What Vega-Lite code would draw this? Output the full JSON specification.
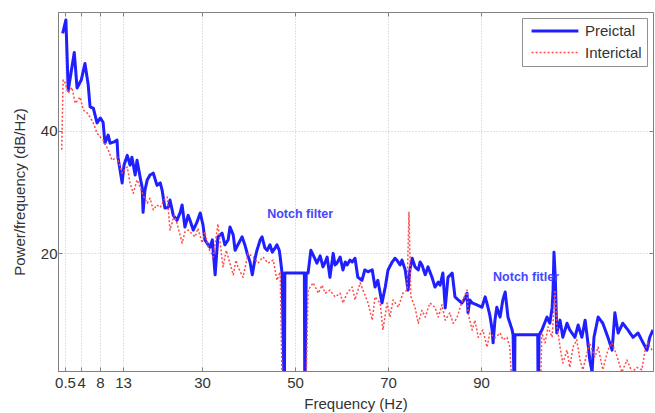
{
  "$schema": "https://vega.github.io/schema/vega-lite/v6.json",
  "width": 595,
  "height": 359,
  "autosize": {"type": "none"},
  "padding": {"left": 58, "top": 12, "right": 2, "bottom": 42},
  "background": "white",
  "config": {
    "font": "Liberation Sans",
    "view": {"stroke": "#808080", "strokeWidth": 1},
    "axis": {
      "labelFont": "Liberation Sans",
      "labelFontSize": 15,
      "labelColor": "#333333",
      "titleFont": "Liberation Sans",
      "titleFontSize": 15,
      "titleFontWeight": "normal",
      "titleColor": "#333333",
      "domainColor": "#808080",
      "tickColor": "#808080",
      "gridColor": "#c4c4c4",
      "gridDash": [1, 2],
      "labelOverlap": false,
      "labelFlush": false
    },
    "legend": {
      "labelFont": "Liberation Sans",
      "labelFontSize": 15,
      "labelColor": "#333333",
      "strokeColor": "#909090",
      "fillColor": "white",
      "padding": 5,
      "cornerRadius": 0,
      "rowPadding": 6,
      "symbolType": "M-3.6,0H3.6",
      "symbolSize": 169,
      "symbolOffset": 20,
      "labelOffset": 22,
      "offset": 6
    }
  },
  "datasets": {
    "psd": [
      {"series": "Preictal", "freq": 0.0, "power": 55.9},
      {"series": "Preictal", "freq": 0.7, "power": 58.1},
      {"series": "Preictal", "freq": 1.2, "power": 46.6},
      {"series": "Preictal", "freq": 2.5, "power": 52.8},
      {"series": "Preictal", "freq": 3.1, "power": 47.0},
      {"series": "Preictal", "freq": 4.0, "power": 48.3},
      {"series": "Preictal", "freq": 4.8, "power": 51.0},
      {"series": "Preictal", "freq": 5.5, "power": 47.5},
      {"series": "Preictal", "freq": 5.9, "power": 43.9},
      {"series": "Preictal", "freq": 6.6, "power": 43.7},
      {"series": "Preictal", "freq": 7.4, "power": 41.3},
      {"series": "Preictal", "freq": 8.1, "power": 42.1},
      {"series": "Preictal", "freq": 8.7, "power": 41.4},
      {"series": "Preictal", "freq": 9.1, "power": 38.0},
      {"series": "Preictal", "freq": 9.8, "power": 39.3},
      {"series": "Preictal", "freq": 10.2, "power": 38.0},
      {"series": "Preictal", "freq": 11.1, "power": 38.2},
      {"series": "Preictal", "freq": 11.7, "power": 38.5},
      {"series": "Preictal", "freq": 11.9, "power": 35.7},
      {"series": "Preictal", "freq": 12.8, "power": 31.5},
      {"series": "Preictal", "freq": 13.2, "power": 34.4},
      {"series": "Preictal", "freq": 13.9, "power": 36.0},
      {"series": "Preictal", "freq": 14.5, "power": 34.4},
      {"series": "Preictal", "freq": 14.9, "power": 35.7},
      {"series": "Preictal", "freq": 15.6, "power": 32.8},
      {"series": "Preictal", "freq": 16.0, "power": 35.2},
      {"series": "Preictal", "freq": 16.7, "power": 32.3},
      {"series": "Preictal", "freq": 17.1, "power": 30.8},
      {"series": "Preictal", "freq": 17.3, "power": 26.7},
      {"series": "Preictal", "freq": 17.7, "power": 30.3},
      {"series": "Preictal", "freq": 18.2, "power": 32.0},
      {"series": "Preictal", "freq": 18.8, "power": 32.8},
      {"series": "Preictal", "freq": 19.5, "power": 33.1},
      {"series": "Preictal", "freq": 20.3, "power": 31.1},
      {"series": "Preictal", "freq": 21.0, "power": 31.5},
      {"series": "Preictal", "freq": 21.4, "power": 30.3},
      {"series": "Preictal", "freq": 22.0, "power": 27.4},
      {"series": "Preictal", "freq": 22.7, "power": 27.5},
      {"series": "Preictal", "freq": 23.1, "power": 28.7},
      {"series": "Preictal", "freq": 23.8, "power": 26.2},
      {"series": "Preictal", "freq": 24.6, "power": 25.4},
      {"series": "Preictal", "freq": 25.3, "power": 26.7},
      {"series": "Preictal", "freq": 25.7, "power": 27.9},
      {"series": "Preictal", "freq": 26.3, "power": 24.3},
      {"series": "Preictal", "freq": 27.0, "power": 26.2},
      {"series": "Preictal", "freq": 27.4, "power": 25.4},
      {"series": "Preictal", "freq": 28.1, "power": 23.8},
      {"series": "Preictal", "freq": 28.9, "power": 25.1},
      {"series": "Preictal", "freq": 29.6, "power": 26.6},
      {"series": "Preictal", "freq": 30.2, "power": 24.6},
      {"series": "Preictal", "freq": 30.6, "power": 22.2},
      {"series": "Preictal", "freq": 31.3, "power": 21.4},
      {"series": "Preictal", "freq": 31.7, "power": 21.0},
      {"series": "Preictal", "freq": 32.2, "power": 22.2},
      {"series": "Preictal", "freq": 32.8, "power": 16.5},
      {"series": "Preictal", "freq": 33.4, "power": 22.7},
      {"series": "Preictal", "freq": 34.3, "power": 23.3},
      {"series": "Preictal", "freq": 34.9, "power": 21.4},
      {"series": "Preictal", "freq": 35.6, "power": 22.2},
      {"series": "Preictal", "freq": 36.0, "power": 24.3},
      {"series": "Preictal", "freq": 36.7, "power": 23.0},
      {"series": "Preictal", "freq": 37.1, "power": 20.5},
      {"series": "Preictal", "freq": 37.7, "power": 21.4},
      {"series": "Preictal", "freq": 38.6, "power": 22.7},
      {"series": "Preictal", "freq": 39.2, "power": 21.4},
      {"series": "Preictal", "freq": 39.7, "power": 20.0},
      {"series": "Preictal", "freq": 40.3, "power": 18.6},
      {"series": "Preictal", "freq": 40.8, "power": 16.5},
      {"series": "Preictal", "freq": 41.4, "power": 19.2},
      {"series": "Preictal", "freq": 41.8, "power": 20.5},
      {"series": "Preictal", "freq": 42.5, "power": 22.2},
      {"series": "Preictal", "freq": 42.9, "power": 22.7},
      {"series": "Preictal", "freq": 43.5, "power": 20.9},
      {"series": "Preictal", "freq": 44.0, "power": 20.5},
      {"series": "Preictal", "freq": 44.6, "power": 21.4},
      {"series": "Preictal", "freq": 45.1, "power": 20.2},
      {"series": "Preictal", "freq": 45.7, "power": 20.9},
      {"series": "Preictal", "freq": 46.1, "power": 21.4},
      {"series": "Preictal", "freq": 46.6, "power": 20.5},
      {"series": "Preictal", "freq": 46.8, "power": 19.4},
      {"series": "Preictal", "freq": 47.2, "power": 16.8},
      {"series": "Preictal", "freq": 47.7, "power": -5},
      {"series": "Preictal", "freq": 47.8, "power": 16.8},
      {"series": "Preictal", "freq": 52.0, "power": 16.8},
      {"series": "Preictal", "freq": 52.1, "power": -5},
      {"series": "Preictal", "freq": 52.4, "power": 16.8},
      {"series": "Preictal", "freq": 52.8, "power": 16.8},
      {"series": "Preictal", "freq": 53.4, "power": 20.5},
      {"series": "Preictal", "freq": 54.1, "power": 19.4},
      {"series": "Preictal", "freq": 54.7, "power": 18.4},
      {"series": "Preictal", "freq": 55.4, "power": 19.6},
      {"series": "Preictal", "freq": 56.0, "power": 17.8},
      {"series": "Preictal", "freq": 56.5, "power": 18.6},
      {"series": "Preictal", "freq": 56.9, "power": 19.4},
      {"series": "Preictal", "freq": 57.5, "power": 16.1},
      {"series": "Preictal", "freq": 58.2, "power": 20.0},
      {"series": "Preictal", "freq": 58.6, "power": 18.1},
      {"series": "Preictal", "freq": 59.0, "power": 18.4},
      {"series": "Preictal", "freq": 59.7, "power": 19.4},
      {"series": "Preictal", "freq": 60.3, "power": 17.3},
      {"series": "Preictal", "freq": 60.8, "power": 18.6},
      {"series": "Preictal", "freq": 61.2, "power": 18.1},
      {"series": "Preictal", "freq": 61.8, "power": 18.9},
      {"series": "Preictal", "freq": 62.3, "power": 18.6},
      {"series": "Preictal", "freq": 62.9, "power": 19.2},
      {"series": "Preictal", "freq": 63.5, "power": 16.1},
      {"series": "Preictal", "freq": 64.4, "power": 15.6},
      {"series": "Preictal", "freq": 65.0, "power": 17.3},
      {"series": "Preictal", "freq": 65.7, "power": 17.0},
      {"series": "Preictal", "freq": 66.6, "power": 17.3},
      {"series": "Preictal", "freq": 67.2, "power": 14.5},
      {"series": "Preictal", "freq": 67.8, "power": 15.6},
      {"series": "Preictal", "freq": 68.7, "power": 11.9},
      {"series": "Preictal", "freq": 69.4, "power": 14.5},
      {"series": "Preictal", "freq": 70.0, "power": 17.3},
      {"series": "Preictal", "freq": 70.9, "power": 18.6},
      {"series": "Preictal", "freq": 71.5, "power": 19.2},
      {"series": "Preictal", "freq": 71.9, "power": 18.9},
      {"series": "Preictal", "freq": 72.6, "power": 18.1},
      {"series": "Preictal", "freq": 73.0, "power": 18.9},
      {"series": "Preictal", "freq": 73.7, "power": 17.3},
      {"series": "Preictal", "freq": 74.3, "power": 14.0},
      {"series": "Preictal", "freq": 74.7, "power": 17.3},
      {"series": "Preictal", "freq": 75.2, "power": 19.2},
      {"series": "Preictal", "freq": 75.8, "power": 17.8},
      {"series": "Preictal", "freq": 76.5, "power": 17.3},
      {"series": "Preictal", "freq": 76.9, "power": 18.6},
      {"series": "Preictal", "freq": 77.3, "power": 18.1},
      {"series": "Preictal", "freq": 78.0, "power": 16.5},
      {"series": "Preictal", "freq": 78.6, "power": 17.8},
      {"series": "Preictal", "freq": 79.5, "power": 16.0},
      {"series": "Preictal", "freq": 80.1, "power": 14.5},
      {"series": "Preictal", "freq": 80.8, "power": 15.3},
      {"series": "Preictal", "freq": 81.2, "power": 14.8},
      {"series": "Preictal", "freq": 81.8, "power": 16.8},
      {"series": "Preictal", "freq": 82.3, "power": 11.1},
      {"series": "Preictal", "freq": 82.9, "power": 16.1},
      {"series": "Preictal", "freq": 83.8, "power": 16.8},
      {"series": "Preictal", "freq": 84.4, "power": 12.9},
      {"series": "Preictal", "freq": 85.1, "power": 12.4},
      {"series": "Preictal", "freq": 85.9, "power": 11.9},
      {"series": "Preictal", "freq": 86.6, "power": 12.7},
      {"series": "Preictal", "freq": 87.0, "power": 13.5},
      {"series": "Preictal", "freq": 87.2, "power": 10.3},
      {"series": "Preictal", "freq": 87.6, "power": 12.4},
      {"series": "Preictal", "freq": 88.1, "power": 11.9},
      {"series": "Preictal", "freq": 89.1, "power": 11.6},
      {"series": "Preictal", "freq": 90.2, "power": 11.2},
      {"series": "Preictal", "freq": 90.9, "power": 12.9},
      {"series": "Preictal", "freq": 91.5, "power": 11.2},
      {"series": "Preictal", "freq": 91.9, "power": 9.9},
      {"series": "Preictal", "freq": 92.4, "power": 7.5},
      {"series": "Preictal", "freq": 92.6, "power": 5.4},
      {"series": "Preictal", "freq": 93.0, "power": 9.1},
      {"series": "Preictal", "freq": 93.4, "power": 11.2},
      {"series": "Preictal", "freq": 94.1, "power": 9.6},
      {"series": "Preictal", "freq": 94.7, "power": 12.4},
      {"series": "Preictal", "freq": 95.2, "power": 13.7},
      {"series": "Preictal", "freq": 95.8, "power": 9.6},
      {"series": "Preictal", "freq": 96.7, "power": 7.5},
      {"series": "Preictal", "freq": 96.9, "power": 6.7},
      {"series": "Preictal", "freq": 97.2, "power": -5},
      {"series": "Preictal", "freq": 97.3, "power": 6.7},
      {"series": "Preictal", "freq": 102.2, "power": 6.7},
      {"series": "Preictal", "freq": 102.3, "power": -5},
      {"series": "Preictal", "freq": 102.5, "power": 6.7},
      {"series": "Preictal", "freq": 103.1, "power": 7.5},
      {"series": "Preictal", "freq": 104.2, "power": 9.6},
      {"series": "Preictal", "freq": 104.8, "power": 8.6},
      {"series": "Preictal", "freq": 105.3, "power": 11.1},
      {"series": "Preictal", "freq": 105.5, "power": 14.0},
      {"series": "Preictal", "freq": 105.7, "power": 20.2},
      {"series": "Preictal", "freq": 106.0, "power": 15.6},
      {"series": "Preictal", "freq": 106.3, "power": 7.0},
      {"series": "Preictal", "freq": 107.0, "power": 9.1},
      {"series": "Preictal", "freq": 107.6, "power": 6.3},
      {"series": "Preictal", "freq": 108.5, "power": 8.6},
      {"series": "Preictal", "freq": 109.1, "power": 7.5},
      {"series": "Preictal", "freq": 110.2, "power": 6.3},
      {"series": "Preictal", "freq": 110.9, "power": 8.3},
      {"series": "Preictal", "freq": 111.7, "power": 6.3},
      {"series": "Preictal", "freq": 112.4, "power": 9.1},
      {"series": "Preictal", "freq": 113.0, "power": 5.4},
      {"series": "Preictal", "freq": 113.4, "power": 2.6},
      {"series": "Preictal", "freq": 113.9, "power": 0.6},
      {"series": "Preictal", "freq": 114.3, "power": 6.3},
      {"series": "Preictal", "freq": 115.2, "power": 9.6},
      {"series": "Preictal", "freq": 116.2, "power": 8.6},
      {"series": "Preictal", "freq": 117.3, "power": 6.3},
      {"series": "Preictal", "freq": 118.2, "power": 4.2},
      {"series": "Preictal", "freq": 118.8, "power": 10.3},
      {"series": "Preictal", "freq": 119.5, "power": 7.0},
      {"series": "Preictal", "freq": 120.5, "power": 8.6},
      {"series": "Preictal", "freq": 121.6, "power": 7.5},
      {"series": "Preictal", "freq": 122.7, "power": 6.3},
      {"series": "Preictal", "freq": 123.8, "power": 7.0},
      {"series": "Preictal", "freq": 124.8, "power": 5.5},
      {"series": "Preictal", "freq": 125.7, "power": 4.2},
      {"series": "Preictal", "freq": 126.3, "power": 6.3},
      {"series": "Preictal", "freq": 127.0, "power": 7.5},
      {"series": "Interictal", "freq": -0.2, "power": 36.9},
      {"series": "Interictal", "freq": 0.1, "power": 48.3},
      {"series": "Interictal", "freq": 0.5, "power": 47.9},
      {"series": "Interictal", "freq": 1.2, "power": 46.2},
      {"series": "Interictal", "freq": 2.0, "power": 47.1},
      {"series": "Interictal", "freq": 2.7, "power": 44.5},
      {"series": "Interictal", "freq": 3.8, "power": 45.5},
      {"series": "Interictal", "freq": 4.4, "power": 43.4},
      {"series": "Interictal", "freq": 5.3, "power": 42.9},
      {"series": "Interictal", "freq": 5.9, "power": 42.2},
      {"series": "Interictal", "freq": 6.6, "power": 41.3},
      {"series": "Interictal", "freq": 7.4, "power": 39.6},
      {"series": "Interictal", "freq": 8.1, "power": 39.0},
      {"series": "Interictal", "freq": 8.7, "power": 38.5},
      {"series": "Interictal", "freq": 9.8, "power": 36.9},
      {"series": "Interictal", "freq": 10.6, "power": 35.2},
      {"series": "Interictal", "freq": 11.7, "power": 35.7},
      {"series": "Interictal", "freq": 12.8, "power": 33.1},
      {"series": "Interictal", "freq": 13.9, "power": 34.1},
      {"series": "Interictal", "freq": 14.5, "power": 31.5},
      {"series": "Interictal", "freq": 15.2, "power": 29.8},
      {"series": "Interictal", "freq": 16.0, "power": 32.0},
      {"series": "Interictal", "freq": 16.7, "power": 30.8},
      {"series": "Interictal", "freq": 17.3, "power": 29.5},
      {"series": "Interictal", "freq": 18.2, "power": 28.2},
      {"series": "Interictal", "freq": 18.8, "power": 29.0},
      {"series": "Interictal", "freq": 19.5, "power": 27.1},
      {"series": "Interictal", "freq": 20.3, "power": 27.9},
      {"series": "Interictal", "freq": 21.0, "power": 27.5},
      {"series": "Interictal", "freq": 21.8, "power": 28.7},
      {"series": "Interictal", "freq": 22.5, "power": 29.2},
      {"series": "Interictal", "freq": 23.1, "power": 23.8},
      {"series": "Interictal", "freq": 24.0, "power": 26.2},
      {"series": "Interictal", "freq": 24.6, "power": 24.9},
      {"series": "Interictal", "freq": 25.7, "power": 21.7},
      {"series": "Interictal", "freq": 26.3, "power": 23.5},
      {"series": "Interictal", "freq": 27.0, "power": 23.8},
      {"series": "Interictal", "freq": 28.5, "power": 22.7},
      {"series": "Interictal", "freq": 29.1, "power": 24.1},
      {"series": "Interictal", "freq": 30.0, "power": 21.7},
      {"series": "Interictal", "freq": 30.6, "power": 23.5},
      {"series": "Interictal", "freq": 31.3, "power": 21.0},
      {"series": "Interictal", "freq": 32.4, "power": 19.4},
      {"series": "Interictal", "freq": 33.4, "power": 24.8},
      {"series": "Interictal", "freq": 34.5, "power": 17.8},
      {"series": "Interictal", "freq": 35.2, "power": 20.5},
      {"series": "Interictal", "freq": 35.6, "power": 19.4},
      {"series": "Interictal", "freq": 36.7, "power": 16.5},
      {"series": "Interictal", "freq": 37.3, "power": 18.9},
      {"series": "Interictal", "freq": 37.7, "power": 17.8},
      {"series": "Interictal", "freq": 38.8, "power": 16.1},
      {"series": "Interictal", "freq": 39.9, "power": 20.0},
      {"series": "Interictal", "freq": 41.0, "power": 19.4},
      {"series": "Interictal", "freq": 42.0, "power": 18.4},
      {"series": "Interictal", "freq": 43.1, "power": 19.4},
      {"series": "Interictal", "freq": 44.2, "power": 18.4},
      {"series": "Interictal", "freq": 45.3, "power": 18.9},
      {"series": "Interictal", "freq": 46.1, "power": 15.6},
      {"series": "Interictal", "freq": 46.8, "power": 17.0},
      {"series": "Interictal", "freq": 47.3, "power": -5},
      {"series": "Interictal", "freq": 52.3, "power": -5},
      {"series": "Interictal", "freq": 52.8, "power": 14.0},
      {"series": "Interictal", "freq": 53.9, "power": 15.2},
      {"series": "Interictal", "freq": 55.0, "power": 13.5},
      {"series": "Interictal", "freq": 55.8, "power": 14.8},
      {"series": "Interictal", "freq": 56.5, "power": 13.5},
      {"series": "Interictal", "freq": 57.5, "power": 14.0},
      {"series": "Interictal", "freq": 58.6, "power": 12.9},
      {"series": "Interictal", "freq": 59.7, "power": 13.5},
      {"series": "Interictal", "freq": 60.3, "power": 11.9},
      {"series": "Interictal", "freq": 61.2, "power": 13.5},
      {"series": "Interictal", "freq": 62.3, "power": 14.5},
      {"series": "Interictal", "freq": 62.9, "power": 12.4},
      {"series": "Interictal", "freq": 64.0, "power": 15.2},
      {"series": "Interictal", "freq": 64.6, "power": 14.0},
      {"series": "Interictal", "freq": 65.7, "power": 11.9},
      {"series": "Interictal", "freq": 66.6, "power": 9.1},
      {"series": "Interictal", "freq": 67.2, "power": 12.9},
      {"series": "Interictal", "freq": 68.3, "power": 11.9},
      {"series": "Interictal", "freq": 68.9, "power": 7.5},
      {"series": "Interictal", "freq": 69.8, "power": 11.9},
      {"series": "Interictal", "freq": 70.4, "power": 9.6},
      {"series": "Interictal", "freq": 71.1, "power": 12.4},
      {"series": "Interictal", "freq": 72.2, "power": 11.2},
      {"series": "Interictal", "freq": 73.2, "power": 13.5},
      {"series": "Interictal", "freq": 74.1, "power": 14.0},
      {"series": "Interictal", "freq": 74.5, "power": 26.7},
      {"series": "Interictal", "freq": 74.9, "power": 13.0},
      {"series": "Interictal", "freq": 75.2, "power": 12.4},
      {"series": "Interictal", "freq": 75.8, "power": 11.2},
      {"series": "Interictal", "freq": 76.5, "power": 8.6},
      {"series": "Interictal", "freq": 77.3, "power": 10.7},
      {"series": "Interictal", "freq": 78.0, "power": 9.6},
      {"series": "Interictal", "freq": 79.0, "power": 11.9},
      {"series": "Interictal", "freq": 80.1, "power": 11.2},
      {"series": "Interictal", "freq": 80.8, "power": 9.6},
      {"series": "Interictal", "freq": 81.6, "power": 11.6},
      {"series": "Interictal", "freq": 82.3, "power": 9.1},
      {"series": "Interictal", "freq": 83.3, "power": 10.3},
      {"series": "Interictal", "freq": 84.0, "power": 8.6},
      {"series": "Interictal", "freq": 84.8, "power": 9.4},
      {"series": "Interictal", "freq": 85.5, "power": 11.2},
      {"series": "Interictal", "freq": 86.1, "power": 12.4},
      {"series": "Interictal", "freq": 87.0, "power": 14.0},
      {"series": "Interictal", "freq": 87.2, "power": 10.3},
      {"series": "Interictal", "freq": 88.1, "power": 7.5},
      {"series": "Interictal", "freq": 88.7, "power": 9.1},
      {"series": "Interictal", "freq": 89.4, "power": 6.3},
      {"series": "Interictal", "freq": 90.4, "power": 7.5},
      {"series": "Interictal", "freq": 91.3, "power": 4.7},
      {"series": "Interictal", "freq": 91.9, "power": 7.0},
      {"series": "Interictal", "freq": 93.0, "power": 6.2},
      {"series": "Interictal", "freq": 94.1, "power": 7.0},
      {"series": "Interictal", "freq": 94.7, "power": 5.9},
      {"series": "Interictal", "freq": 95.6, "power": 6.3},
      {"series": "Interictal", "freq": 96.2, "power": 4.7},
      {"series": "Interictal", "freq": 96.9, "power": -5},
      {"series": "Interictal", "freq": 102.7, "power": -5},
      {"series": "Interictal", "freq": 103.1, "power": 7.0},
      {"series": "Interictal", "freq": 103.8, "power": 5.4},
      {"series": "Interictal", "freq": 104.4, "power": 8.0},
      {"series": "Interictal", "freq": 105.3, "power": 6.3},
      {"series": "Interictal", "freq": 105.9, "power": 14.0},
      {"series": "Interictal", "freq": 106.3, "power": 8.6},
      {"series": "Interictal", "freq": 107.0, "power": 4.7},
      {"series": "Interictal", "freq": 107.6, "power": 2.1},
      {"series": "Interictal", "freq": 108.5, "power": 4.2},
      {"series": "Interictal", "freq": 109.1, "power": 1.4},
      {"series": "Interictal", "freq": 109.8, "power": 4.7},
      {"series": "Interictal", "freq": 110.6, "power": 5.9},
      {"series": "Interictal", "freq": 111.3, "power": 2.6},
      {"series": "Interictal", "freq": 111.9, "power": 1.0},
      {"series": "Interictal", "freq": 112.8, "power": 3.7},
      {"series": "Interictal", "freq": 113.4, "power": 5.4},
      {"series": "Interictal", "freq": 114.5, "power": 3.1},
      {"series": "Interictal", "freq": 115.2, "power": 4.7},
      {"series": "Interictal", "freq": 116.2, "power": 1.0},
      {"series": "Interictal", "freq": 117.3, "power": 4.2},
      {"series": "Interictal", "freq": 118.2, "power": 5.4},
      {"series": "Interictal", "freq": 119.3, "power": 3.1},
      {"series": "Interictal", "freq": 120.3, "power": 0.6},
      {"series": "Interictal", "freq": 121.4, "power": 2.6},
      {"series": "Interictal", "freq": 122.5, "power": 0.6},
      {"series": "Interictal", "freq": 123.5, "power": 1.4},
      {"series": "Interictal", "freq": 124.6, "power": 1.0},
      {"series": "Interictal", "freq": 125.3, "power": 4.2},
      {"series": "Interictal", "freq": 125.9, "power": 5.4},
      {"series": "Interictal", "freq": 126.8, "power": 4.2}
    ],
    "notes": [
      {"label": "Notch filter", "freq": 44.0, "power": 26.4},
      {"label": "Notch fitler", "freq": 92.6, "power": 16.2}
    ]
  },
  "layer": [
    {
      "data": {"name": "psd"},
      "transform": [{"filter": "datum.series === 'Preictal'"}],
      "mark": {"type": "line", "clip": true, "strokeJoin": "round", "strokeCap": "butt"},
      "encoding": {
        "x": {
          "field": "freq", "type": "quantitative",
          "scale": {"domain": [-1, 127], "nice": false, "zero": false},
          "axis": {"title": "Frequency (Hz)", "format": "~g", "values": [0.5, 4, 8, 13, 30, 50, 70, 90], "grid": true, "tickSize": -4, "labelPadding": 8, "titlePadding": 6}
        },
        "y": {
          "field": "power", "type": "quantitative",
          "scale": {"domain": [0.8, 59.4], "nice": false, "zero": false},
          "axis": {"title": "Power/frequency (dB/Hz)", "values": [20, 40], "grid": true, "tickSize": -4, "labelPadding": 5, "titlePadding": 13}
        },
        "color": {"field": "series", "type": "nominal", "scale": {"domain": ["Preictal", "Interictal"], "range": ["#1f1fff", "#ff4a4a"]}, "legend": {"title": null, "orient": "top-right"}},
        "strokeDash": {"field": "series", "type": "nominal", "scale": {"domain": ["Preictal", "Interictal"], "range": [[1, 0], [2, 2]]}, "legend": {"title": null, "orient": "top-right"}},
        "strokeWidth": {"field": "series", "type": "nominal", "scale": {"domain": ["Preictal", "Interictal"], "range": [3, 1.5]}, "legend": {"title": null, "orient": "top-right"}},
        "order": {"value": null}
      }
    },
    {
      "data": {"name": "psd"},
      "transform": [{"filter": "datum.series === 'Interictal'"}],
      "mark": {"type": "line", "clip": true, "strokeJoin": "round"},
      "encoding": {
        "x": {"field": "freq", "type": "quantitative", "axis": null},
        "y": {"field": "power", "type": "quantitative", "axis": null},
        "color": {"field": "series", "type": "nominal"},
        "strokeDash": {"field": "series", "type": "nominal"},
        "strokeWidth": {"field": "series", "type": "nominal"}
      }
    },
    {
      "data": {"name": "notes"},
      "mark": {"type": "text", "align": "left", "baseline": "middle", "color": "#4646ff", "fontSize": 12.5, "fontWeight": "bold", "font": "Liberation Sans"},
      "encoding": {
        "x": {"field": "freq", "type": "quantitative", "axis": {"orient": "top", "labels": false, "grid": false, "domain": false, "title": null, "tickSize": -4, "values": [0.5, 4, 8, 13, 30, 50, 70, 90]}},
        "y": {"field": "power", "type": "quantitative", "axis": {"orient": "right", "labels": false, "grid": false, "domain": false, "title": null, "tickSize": -4, "values": [20, 40]}},
        "text": {"field": "label"}
      }
    }
  ],
  "resolve": {"axis": {"x": "independent", "y": "independent"}}
}
